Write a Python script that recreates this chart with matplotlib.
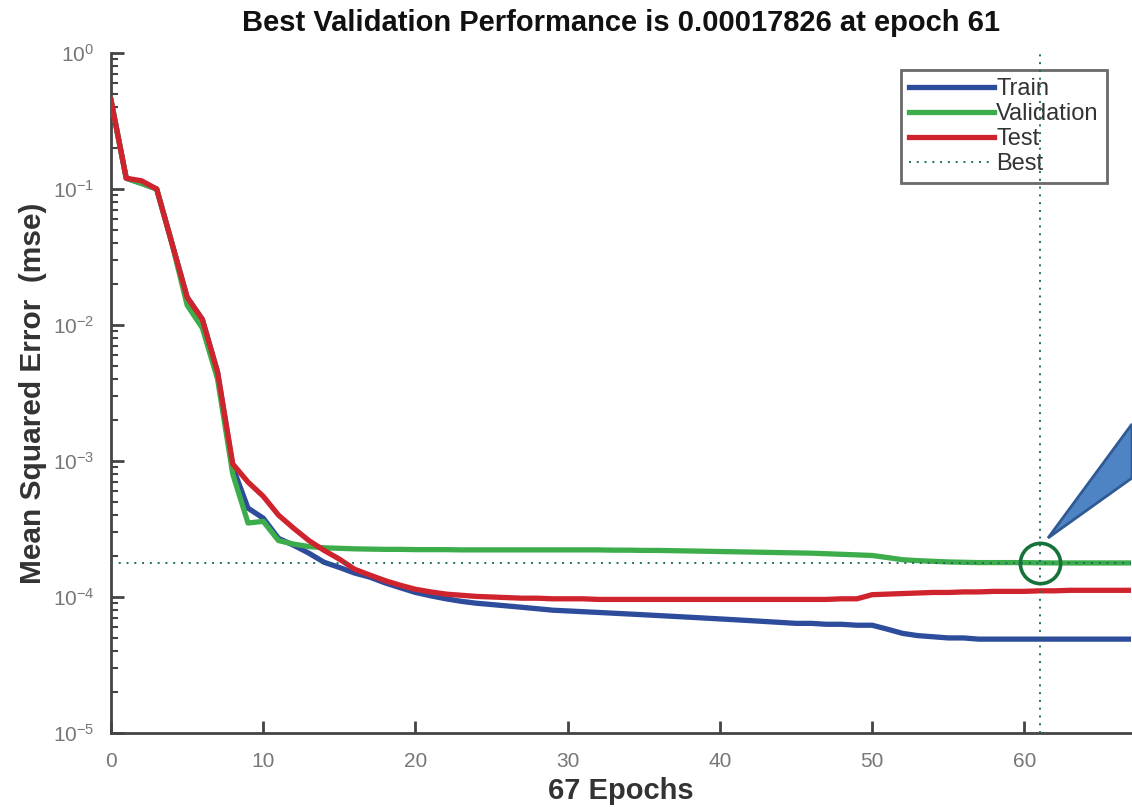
import matplotlib
matplotlib.use("Agg")
from matplotlib import pyplot as plt
from matplotlib.patches import Polygon

epochs = list(range(68))

train = [0.45, 0.12, 0.11, 0.10, 0.040, 0.016, 0.011, 0.0045, 0.0009, 0.00045,
         0.00038, 0.00027, 0.00024, 0.00021, 0.00018, 0.000165, 0.00015, 0.00014, 0.000127, 0.000117,
         0.000108, 0.000102, 0.000097, 0.000093, 0.00009, 0.000088, 0.000086, 0.000084, 0.000082, 0.00008,
         0.000079, 0.000078, 0.000077, 0.000076, 0.000075, 0.000074, 0.000073, 0.000072, 0.000071, 0.00007,
         0.000069, 0.000068, 0.000067, 0.000066, 0.000065, 0.000064, 0.000064, 0.000063, 0.000063, 0.000062,
         0.000062, 0.000058, 0.000054, 0.000052, 0.000051, 0.00005, 0.00005, 0.000049, 0.000049, 0.000049,
         0.000049, 0.000049, 0.000049, 0.000049, 0.000049, 0.000049, 0.000049, 0.000049]

validation = [0.45, 0.12, 0.11, 0.10, 0.040, 0.014, 0.0095, 0.004, 0.0008, 0.00035,
              0.00036, 0.00026, 0.000245, 0.000235, 0.00023, 0.000228, 0.000226, 0.000225, 0.000224, 0.000224,
              0.000223, 0.000223, 0.000223, 0.000222, 0.000222, 0.000222, 0.000222, 0.000222, 0.000222, 0.000222,
              0.000222, 0.000222, 0.000222, 0.000221, 0.000221, 0.00022, 0.00022, 0.000219, 0.000218, 0.000217,
              0.000216, 0.000215, 0.000214, 0.000213, 0.000212, 0.000211, 0.00021, 0.000208, 0.000206, 0.000204,
              0.000202, 0.000195, 0.000188, 0.000185, 0.000183, 0.000181, 0.00018, 0.000179, 0.000179, 0.000179,
              0.000179, 0.00017826, 0.000178, 0.000178, 0.000178, 0.000178, 0.000178, 0.000178]

test = [0.45, 0.12, 0.115, 0.10, 0.040, 0.016, 0.011, 0.0045, 0.00095, 0.0007,
        0.00055, 0.0004, 0.00032, 0.00026, 0.00022, 0.00019, 0.00016, 0.000145, 0.000132, 0.000122,
        0.000114, 0.000109, 0.000105, 0.000103, 0.000101, 0.0001, 0.000099, 0.000098, 0.000098, 0.000097,
        0.000097, 0.000097, 0.000096, 0.000096, 0.000096, 0.000096, 0.000096, 0.000096, 0.000096, 0.000096,
        0.000096, 0.000096, 0.000096, 0.000096, 0.000096, 0.000096, 0.000096, 0.000096, 0.000097, 0.000097,
        0.000104, 0.000105, 0.000106, 0.000107, 0.000108, 0.000108, 0.000109, 0.000109, 0.00011, 0.00011,
        0.00011, 0.000111, 0.000111, 0.000112, 0.000112, 0.000112, 0.000112, 0.000112]

best_epoch = 61
best_perf = 0.00017826

title_text = "Best Validation Performance is 0.00017826 at epoch 61"

plt.rcParams['font.family'] = ['Liberation Sans', 'DejaVu Sans']

fig = plt.figure(figsize=(11.32, 8.09), dpi=100)
ax = fig.add_axes([111 / 1132, 1 - 733 / 809, 1020 / 1132, 680 / 809])

blue = "#2d4c9c"
green = "#3dad4b"
red = "#cf232d"
best_col = "#1f6e5e"

ax.plot(epochs, train, color=blue, lw=3.8, label="Train", zorder=3)
ax.plot(epochs, validation, color=green, lw=3.8, label="Validation", zorder=4)
ax.plot(epochs, test, color=red, lw=3.8, label="Test", zorder=5)
ax.axhline(best_perf, color=best_col, ls=(0, (1, 3)), lw=1.4, zorder=6)
ax.axvline(best_epoch, color=best_col, ls=(0, (1, 3)), lw=1.4, label="Best", zorder=6)

# highlight circle at best point
ax.plot([best_epoch], [best_perf], marker="o", ms=29, mfc="none", mec="#17723a",
        mew=2.6, zorder=7, clip_on=False)

ax.set_yscale("log")
ax.set_xlim(0, 67)
ax.set_ylim(1e-5, 1)
ax.set_xticks([0, 10, 20, 30, 40, 50, 60])

for s in ["top", "right"]:
    ax.spines[s].set_visible(False)
for s in ["left", "bottom"]:
    ax.spines[s].set_color("#444444")
    ax.spines[s].set_linewidth(2)

ax.tick_params(which="major", direction="in", length=9, width=2, color="#444444",
               labelsize=15, labelcolor="#777777")
ax.tick_params(axis="x", pad=14)
ax.tick_params(axis="y", pad=12)
ax.tick_params(which="minor", direction="in", length=5, width=1.5, color="#444444")

ax.set_title(title_text, fontsize=21, fontweight="bold", pad=16, color="#111111")
ax.set_xlabel("67 Epochs", fontsize=21, fontweight="bold", color="#333333", labelpad=4)
ax.set_ylabel("Mean Squared Error  (mse)", fontsize=21.5, fontweight="bold", color="#333333", labelpad=4)

leg = ax.legend(loc="upper right", bbox_to_anchor=(0.9765, 0.975), fontsize=17,
                frameon=True, fancybox=False, handlelength=3.6, handletextpad=0.1,
                labelspacing=0.12, borderpad=0.35, borderaxespad=0)
leg.get_frame().set_edgecolor("#444444")
leg.get_frame().set_linewidth(2)
for t in leg.get_texts():
    t.set_color("#333333")

# callout tail pointing to the best point
tail = Polygon([(1048 / 1132, 1 - 538 / 809), (1132 / 1132, 1 - 424 / 809), (1132 / 1132, 1 - 478 / 809)],
               closed=True, transform=fig.transFigure, facecolor="#4f84c4", edgecolor="#2f5a93",
               lw=2, zorder=10)
fig.patches.append(tail)

fig.savefig("out.png", dpi=100)
